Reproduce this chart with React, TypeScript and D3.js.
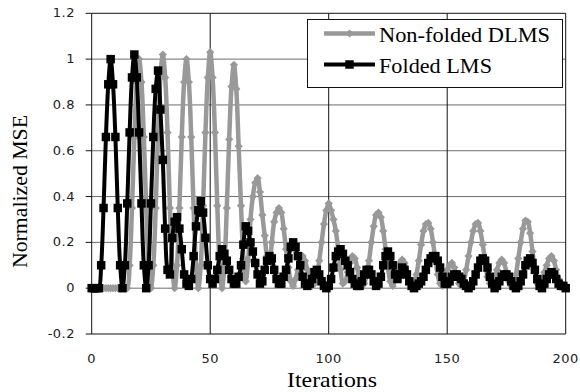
import * as React from 'react'
import * as d3 from 'd3'

const WIDTH = 580
const HEIGHT = 392
const PLOT_LEFT = 91.7
const PLOT_RIGHT = 565.7
const PLOT_TOP = 13.3
const PLOT_BOTTOM = 334

const SERIES_NAMES = ['Non-folded DLMS', 'Folded LMS']
const X_TICKS = [0, 50, 100, 150, 200]
const Y_TICKS = [-0.2, 0, 0.2, 0.4, 0.6, 0.8, 1, 1.2]
const Y_TICK_LABELS = ['-0.2', '0', '0.2', '0.4', '0.6', '0.8', '1', '1.2']

// normalized MSE per iteration, 0..200
const DLMS_MSE = [
  0, 0, 0, 0, 0, 0, 0, 0, 0, 0,
  0, 0, 0, 0, 0, 0, 0.1, 0.35, 0.66, 0.9,
  1.0, 0.9, 0.66, 0.35, 0.1, 0, 0.1, 0.35, 0.68, 0.92,
  1.02, 0.92, 0.68, 0.35, 0.1, 0, 0.1, 0.35, 0.66, 0.9,
  1.0, 0.9, 0.66, 0.35, 0.1, 0, 0.1, 0.36, 0.68, 0.92,
  1.03, 0.92, 0.68, 0.36, 0.1, 0, 0.1, 0.35, 0.65, 0.88,
  0.975, 0.87, 0.62, 0.36, 0.13, 0.03, 0.12, 0.3, 0.4, 0.46,
  0.48, 0.42, 0.32, 0.23, 0.14, 0.12, 0.2, 0.29, 0.33, 0.35,
  0.33, 0.26, 0.17, 0.09, 0.03, 0.01, 0.04, 0.08, 0.12, 0.14,
  0.12, 0.08, 0.04, 0.01, 0.02, 0.05, 0.12, 0.2, 0.28, 0.34,
  0.37, 0.34, 0.3, 0.25, 0.17, 0.08, 0.02, 0.03, 0.07, 0.11,
  0.14, 0.13, 0.09, 0.04, 0.01, 0.02, 0.06, 0.12, 0.2, 0.27,
  0.32, 0.33, 0.31, 0.25, 0.17, 0.09, 0.03, 0.01, 0.04, 0.08,
  0.11, 0.125, 0.11, 0.07, 0.03, 0.01, 0.02, 0.06, 0.12, 0.19,
  0.25, 0.28, 0.285, 0.26, 0.2, 0.13, 0.06, 0.02, 0.01, 0.04,
  0.08, 0.1, 0.11, 0.09, 0.05, 0.02, 0.01, 0.03, 0.08, 0.14,
  0.2, 0.25, 0.28, 0.285, 0.25, 0.19, 0.12, 0.05, 0.02, 0.01,
  0.04, 0.08, 0.11, 0.125, 0.11, 0.07, 0.03, 0.01, 0.02, 0.06,
  0.13, 0.2, 0.26, 0.295, 0.29, 0.24, 0.16, 0.08, 0.02, 0.01,
  0.03, 0.07, 0.1, 0.13, 0.14, 0.12, 0.08, 0.04, 0.02, 0.01,
  0
]

const FOLDED_MSE = [
  0, 0, 0, 0, 0.1, 0.35, 0.66, 0.89, 1.0, 0.89,
  0.66, 0.35, 0.1, 0, 0.1, 0.37, 0.68, 0.92, 1.02, 0.92,
  0.68, 0.37, 0.1, 0, 0.1, 0.37, 0.66, 0.87, 0.95, 0.78,
  0.56, 0.26, 0.08, 0.06, 0.22, 0.29, 0.31, 0.26, 0.17, 0.06,
  0.02, 0.01, 0.04, 0.14, 0.27, 0.34, 0.38, 0.33, 0.22, 0.1,
  0.04, 0.02, 0.04, 0.08, 0.14, 0.17, 0.15, 0.12, 0.08, 0.04,
  0.02, 0.02, 0.05, 0.1, 0.19, 0.27, 0.25, 0.2, 0.16, 0.11,
  0.06, 0.02, 0.03, 0.08, 0.12, 0.14, 0.13, 0.08, 0.04, 0.02,
  0.02, 0.05, 0.08, 0.13, 0.18, 0.2, 0.18, 0.14, 0.1, 0.05,
  0.02, 0.01, 0.02, 0.04, 0.07, 0.08, 0.06, 0.03, 0.01, 0,
  0.01, 0.04, 0.09, 0.14, 0.16, 0.17, 0.15, 0.12, 0.1, 0.07,
  0.04, 0.02, 0.01, 0.01, 0.03, 0.06, 0.08, 0.08, 0.06, 0.03,
  0.01, 0.02, 0.05, 0.1, 0.14, 0.16, 0.14, 0.1, 0.06, 0.04,
  0.06, 0.09, 0.08, 0.06, 0.03, 0.01, 0, 0.01, 0.02, 0.03,
  0.05, 0.08, 0.11, 0.13, 0.14, 0.14, 0.12, 0.09, 0.05, 0.02,
  0.02, 0.03, 0.05, 0.06, 0.06, 0.05, 0.04, 0.02, 0.01, 0,
  0.01, 0.03, 0.06, 0.09, 0.12, 0.13, 0.12, 0.09, 0.05, 0.02,
  0, 0.01, 0.03, 0.05, 0.06, 0.06, 0.05, 0.03, 0.01, 0,
  0.01, 0.03, 0.06, 0.1, 0.12, 0.13, 0.11, 0.08, 0.04, 0.01,
  0, 0.02, 0.04, 0.06, 0.07, 0.06, 0.04, 0.02, 0.01, 0.01,
  0
]

const ITERATIONS = d3.range(DLMS_MSE.length)

const GRAY = '#999999'
const SERIF = "'Liberation Serif', 'Times New Roman', serif"
const SANS = "'DejaVu Sans', sans-serif"

function drawChart(svgRef: React.RefObject<SVGSVGElement>) {
  const svg = d3.select(svgRef.current)
  svg.selectAll('*').remove()
  svg.attr('width', WIDTH).attr('height', HEIGHT)

  const xScale = d3.scaleLinear().domain([0, 200]).range([PLOT_LEFT, PLOT_RIGHT])
  const yScale = d3.scaleLinear().domain([-0.2, 1.2]).range([PLOT_BOTTOM, PLOT_TOP])

  svg.append('rect').attr('width', WIDTH).attr('height', HEIGHT).attr('fill', '#fff')

  // horizontal grid
  svg
    .append('g')
    .selectAll('line')
    .data(Y_TICKS.slice(1, -1))
    .join('line')
    .attr('x1', PLOT_LEFT)
    .attr('x2', PLOT_RIGHT)
    .attr('y1', d => yScale(d))
    .attr('y2', d => yScale(d))
    .attr('stroke', '#6e6e6e')
    .attr('stroke-width', 1)

  // vertical grid + frame
  svg
    .append('g')
    .selectAll('line')
    .data(X_TICKS)
    .join('line')
    .attr('x1', d => xScale(d))
    .attr('x2', d => xScale(d))
    .attr('y1', PLOT_TOP)
    .attr('y2', PLOT_BOTTOM)
    .attr('stroke', '#111')
    .attr('stroke-width', 1)
  svg
    .append('line')
    .attr('x1', PLOT_LEFT)
    .attr('x2', PLOT_RIGHT)
    .attr('y1', yScale(1.2))
    .attr('y2', yScale(1.2))
    .attr('stroke', '#111')
  svg
    .append('line')
    .attr('x1', PLOT_LEFT)
    .attr('x2', PLOT_RIGHT)
    .attr('y1', yScale(-0.2))
    .attr('y2', yScale(-0.2))
    .attr('stroke', '#111')

  // y ticks and labels
  const yAxis = svg.append('g')
  yAxis
    .selectAll('line')
    .data(Y_TICKS)
    .join('line')
    .attr('x1', PLOT_LEFT - 6)
    .attr('x2', PLOT_LEFT)
    .attr('y1', d => yScale(d))
    .attr('y2', d => yScale(d))
    .attr('stroke', '#111')
  yAxis
    .selectAll('text')
    .data(Y_TICKS)
    .join('text')
    .attr('x', 75)
    .attr('y', d => yScale(d) + 4)
    .attr('text-anchor', 'end')
    .attr('font-family', SANS)
    .attr('font-size', 13)
    .attr('letter-spacing', 0.5)
    .attr('fill', '#222')
    .text((d, i) => Y_TICK_LABELS[i])

  svg
    .append('g')
    .selectAll('text')
    .data(X_TICKS)
    .join('text')
    .attr('x', d => xScale(d))
    .attr('y', 363)
    .attr('text-anchor', 'middle')
    .attr('font-family', SANS)
    .attr('font-size', 13)
    .attr('letter-spacing', 0.5)
    .attr('fill', '#222')
    .text(d => String(d))

  const line = d3
    .line<number>()
    .x((d, i) => xScale(ITERATIONS[i]))
    .y(d => yScale(d))
    .curve(d3.curveCatmullRom.alpha(0.5))

  // Non-folded DLMS
  svg
    .append('path')
    .attr('d', line(DLMS_MSE))
    .attr('fill', 'none')
    .attr('stroke', GRAY)
    .attr('stroke-width', 4.5)
    .attr('stroke-linejoin', 'round')
  const diamond = d3.symbol(d3.symbolSquare, 34)
  svg
    .append('g')
    .selectAll('path')
    .data(DLMS_MSE)
    .join('path')
    .attr('d', diamond())
    .attr(
      'transform',
      (d, i) => `translate(${xScale(ITERATIONS[i])},${yScale(d)}) rotate(45)`
    )
    .attr('fill', GRAY)

  // Folded LMS
  svg
    .append('path')
    .attr('d', line(FOLDED_MSE))
    .attr('fill', 'none')
    .attr('stroke', '#000')
    .attr('stroke-width', 4)
    .attr('stroke-linejoin', 'round')
  const square = d3.symbol(d3.symbolSquare, 72)
  svg
    .append('g')
    .selectAll('path')
    .data(FOLDED_MSE)
    .join('path')
    .attr('d', square())
    .attr('transform', (d, i) => `translate(${xScale(ITERATIONS[i])},${yScale(d)})`)
    .attr('fill', '#000')

  // legend
  const legend = svg.append('g')
  legend
    .append('rect')
    .attr('x', 307.5)
    .attr('y', 19.5)
    .attr('width', 255)
    .attr('height', 68)
    .attr('fill', '#fff')
    .attr('stroke', '#111')
  const rows = [
    { y: 33.5, color: GRAY, width: 4.5, marker: diamond, rotate: 45 },
    { y: 64.5, color: '#000', width: 4, marker: square, rotate: 0 }
  ]
  rows.forEach((r, i) => {
    legend
      .append('line')
      .attr('x1', 324)
      .attr('x2', 375)
      .attr('y1', r.y)
      .attr('y2', r.y)
      .attr('stroke', r.color)
      .attr('stroke-width', r.width)
    legend
      .append('path')
      .attr('d', r.marker())
      .attr('transform', `translate(349.5,${r.y}) rotate(${r.rotate})`)
      .attr('fill', r.color)
    legend
      .append('text')
      .attr('x', 379)
      .attr('y', r.y + 8)
      .attr('font-family', SERIF)
      .attr('font-size', 22)
      .attr('textLength', i === 0 ? 171 : 113)
      .attr('lengthAdjust', 'spacingAndGlyphs')
      .attr('fill', '#000')
      .text(SERIES_NAMES[i])
  })

  // axis titles
  svg
    .append('text')
    .attr('x', 332)
    .attr('y', 387)
    .attr('text-anchor', 'middle')
    .attr('font-family', SERIF)
    .attr('font-size', 21)
    .attr('textLength', 90)
    .attr('lengthAdjust', 'spacingAndGlyphs')
    .text('Iterations')
  svg
    .append('text')
    .attr('transform', 'translate(26.5,191.5) rotate(-90)')
    .attr('text-anchor', 'middle')
    .attr('font-family', SERIF)
    .attr('font-size', 22)
    .attr('textLength', 153)
    .attr('lengthAdjust', 'spacingAndGlyphs')
    .text('Normalized MSE')
}

export default function App() {
  const chartSvg = React.useRef<SVGSVGElement>(null)
  React.useEffect(() => {
    drawChart(chartSvg)
  }, [])

  return (
    <div style={{ position: 'absolute', left: 0, top: 0 }}>
      <svg ref={chartSvg} style={{ display: 'block' }} />
    </div>
  )
}
